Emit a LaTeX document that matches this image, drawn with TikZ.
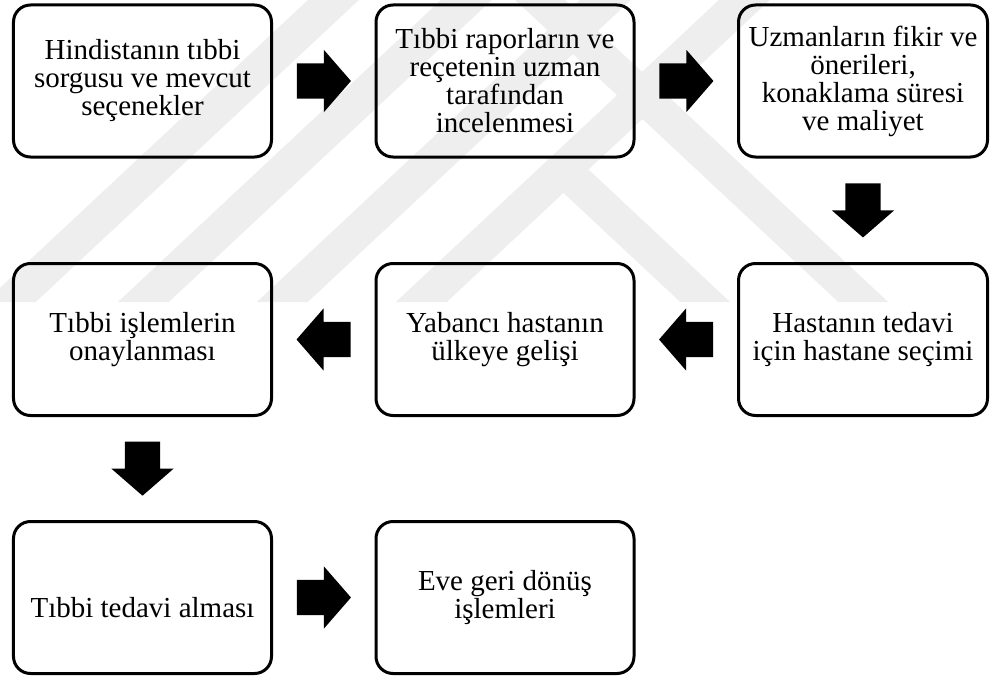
\documentclass[tikz,border=0pt]{standalone}
\usepackage{fontspec}
\setmainfont{Liberation Serif}
\usetikzlibrary{shapes.arrows,calc}
\definecolor{wmgray}{gray}{0.935}
\begin{document}
\begin{tikzpicture}[x=1bp,y=-1bp,
    box/.style={draw,line width=3bp,rounded corners=17bp,minimum width=258bp,
      minimum height=152bp,inner sep=2bp,align=center,
      font=\fontsize{29bp}{28bp}\selectfont},
    blk/.style={single arrow,fill=black,minimum height=54bp,inner xsep=0pt,
      inner ysep=17.5bp,single arrow head extend=13.5bp,single arrow tip angle=98,
      anchor=tail},
    blkdown/.style={blk,shape border rotate=270,inner xsep=17.5bp,inner ysep=0pt}]
    \useasboundingbox (0,0) rectangle (991,679);
    % faint stripes in the background
    \begin{scope}
      \clip (0,0) rectangle (991,302);
      \fill[wmgray] (307.9,0) -- (358.9,0) -- (35.8,302) -- (-15.2,302) -- cycle;
      \fill[wmgray] (440.9,0) -- (491.9,0) -- (168.8,302) -- (117.8,302) -- cycle;
      \fill[wmgray] (579.9,0) -- (630.9,0) -- (307.8,302) -- (256.8,302) -- cycle;
      \fill[wmgray] (718.9,0) -- (769.9,0) -- (446.8,302) -- (395.8,302) -- cycle;
      \fill[wmgray] (563.5,193) -- (588.5,169.5) -- (730.2,302) -- (680.2,302) -- cycle;
      \fill[wmgray] (515.1,0) -- (565.1,0) -- (888.2,302) -- (838.2,302) -- cycle;
    \end{scope}
    % steps
    \node[box] (sorgu) at (142.5,81) {Hindistanın tıbbi\\sorgusu ve mevcut\\seçenekler};
    \node[box] (rapor) at (505,81) {Tıbbi raporların ve\\reçetenin uzman\\tarafından\\incelenmesi};
    \node[box,minimum width=249bp] (fikir) at (863,81) {Uzmanların fikir ve\\önerileri,\\konaklama süresi\\ve maliyet};
    \node[box,minimum width=249bp] (secim) at (863,339.5) {Hastanın tedavi\\için hastane seçimi};
    \node[box] (gelis) at (505,339.5) {Yabancı hastanın\\ülkeye gelişi};
    \node[box] (onay) at (142.5,339.5) {Tıbbi işlemlerin\\onaylanması};
    \node[box,text height=39bp,text depth=0pt] (tedavi) at (142.5,597.5) {Tıbbi tedavi alması};
    \node[box] (donus) at (505,597.5) {Eve geri dönüş\\işlemleri};
    % block arrows, tail set back by half their length
    \node[blk] (a1) at ($(sorgu.east)!.5!(rapor.west)+(-27,0)$) {};
    \node[blk] (a2) at ($(rapor.east)!.5!(fikir.west)+(-27,0)$) {};
    \node[blkdown] (a3) at ($(fikir.south)!.5!(secim.north)+(0,-27)$) {};
    \node[blk,shape border rotate=180] (a4) at ($(secim.west)!.5!(gelis.east)+(27,0)$) {};
    \node[blk,shape border rotate=180] (a5) at ($(gelis.west)!.5!(onay.east)+(27,0)$) {};
    \node[blkdown] (a6) at ($(onay.south)!.5!(tedavi.north)+(0,-27)$) {};
    \node[blk] (a7) at ($(tedavi.east)!.5!(donus.west)+(-27,0)$) {};
  \end{tikzpicture}
\end{document}
